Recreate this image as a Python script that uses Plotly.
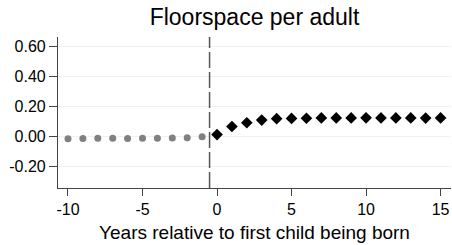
import plotly.graph_objects as go

pre_years = [-10, -9, -8, -7, -6, -5, -4, -3, -2, -1]
pre_values = [-0.015, -0.013, -0.012, -0.012, -0.013, -0.012, -0.012, -0.010, -0.008, -0.002]
post_years = [0, 1, 2, 3, 4, 5, 6, 7, 8, 9, 10, 11, 12, 13, 14, 15]
post_values = [0.013, 0.067, 0.092, 0.110, 0.119, 0.121, 0.122, 0.124, 0.124, 0.124, 0.125, 0.124, 0.124, 0.124, 0.123, 0.124]
y_ticks = [-0.2, 0.0, 0.2, 0.4, 0.6]
x_ticks = [-10, -5, 0, 5, 10, 15]
event_line = -0.5

font = "Liberation Sans, Arial, sans-serif"

fig = go.Figure()
fig.add_trace(go.Scatter(x=pre_years, y=pre_values, mode="markers",
                         marker=dict(symbol="circle", size=7, color="#808080"),
                         showlegend=False, cliponaxis=False))
fig.add_trace(go.Scatter(x=post_years, y=post_values, mode="markers",
                         marker=dict(symbol="diamond", size=9, color="#000000"),
                         showlegend=False, cliponaxis=False))

fig.add_hline(y=0, line=dict(color="#000000", width=1.2, dash="4px,3px"), layer="below")
fig.add_vline(x=event_line, line=dict(color="#555555", width=1.5, dash="16px,4px"))

fig.update_layout(
    width=452, height=245,
    margin=dict(l=58, r=1, t=37, b=57),
    paper_bgcolor="white", plot_bgcolor="white",
    font=dict(family=font, color="#000000", size=16),
    title=dict(text="Floorspace per adult", x=0.5, xref="paper", xanchor="center",
               y=1 - 17 / 245, yref="container", yanchor="middle",
               font=dict(size=23, family=font)),
)
fig.update_xaxes(range=[-10.67, 15.7], tickvals=x_ticks, ticktext=[str(v) for v in x_ticks],
                 showgrid=False, zeroline=False, showline=True, linecolor="#444444", linewidth=1.2,
                 ticks="outside", ticklen=7, tickcolor="#444444", automargin=False,
                 title=dict(text="Years relative to first child being born", font=dict(size=19), standoff=8))
fig.update_yaxes(range=[-0.344, 0.665], tickvals=y_ticks, ticktext=[f"{v:.2f}" for v in y_ticks],
                 showgrid=True, gridcolor="#eaf2f3", gridwidth=1, zeroline=False,
                 showline=True, linecolor="#444444", linewidth=1.2, automargin=False,
                 ticks="outside", ticklen=8, tickcolor="#444444")

fig.write_html("out.html", config={"displayModeBar": False},
               post_script="document.body.style.margin='0';document.body.style.overflow='hidden';")
